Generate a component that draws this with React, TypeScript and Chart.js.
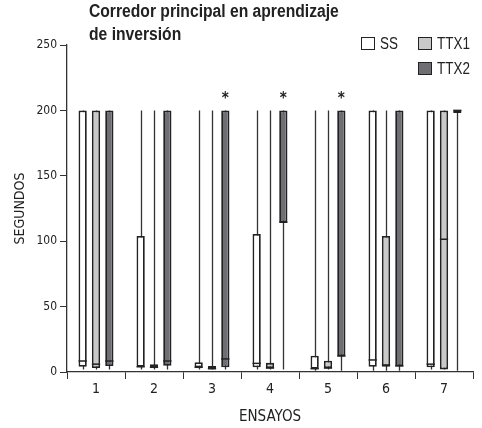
import React, { useEffect, useRef } from "react";
import { Chart, registerables } from "chart.js";

Chart.register(...registerables);

// Trials (x categories)
const categories = ["1", "2", "3", "4", "5", "6", "7"];

// SS group: box-plot statistics per trial (seconds)
const ssMin = [2, 2, 2, 2, 1, 1, 2];
const ssQ1 = [4, 4, 3.6, 3.6, 2.5, 4, 3.6];
const ssMedian = [8.4, 4, 3.6, 6.6, 2.5, 9.2, 6];
const ssQ3 = [200, 104, 7.4, 105.5, 12.5, 200, 200];
const ssMax = [200, 200, 200, 200, 200, 200, 200];

// TTX1 group
const ttx1Min = [2, 2, 2, 2, 2, 1, 2];
const ttx1Q1 = [3, 3.6, 2.5, 3, 3, 4, 2];
const ttx1Median = [6, 3.6, 2.5, 3, 3, 5.4, 101.5];
const ttx1Q3 = [200, 6, 4.6, 7, 8.6, 104, 200];
const ttx1Max = [200, 200, 200, 200, 200, 200, 200];

// TTX2 group
const ttx2Min = [2, 2, 2, 2, 1, 1, 1];
const ttx2Q1 = [4.6, 4.8, 3.6, 114.5, 12.2, 4.6, 198];
const ttx2Median = [8.4, 8.4, 10, 114.5, 12.2, 4.6, 200];
const ttx2Q3 = [200, 200, 200, 200, 200, 200, 200];
const ttx2Max = [200, 200, 200, 200, 200, 200, 200];

// Trials where TTX2 differs significantly (marked with *)
const ttx2Significant = [false, false, true, true, true, false, false];

const yTicks = [0, 50, 100, 150, 200, 250];

const CANVAS_FONT = "'DejaVu Sans Condensed', 'Liberation Sans', sans-serif";
const HTML_FONT = "'Liberation Sans', Arial, sans-serif";
const INK = "#222222";

const groups = [
  { label: "SS", fill: "#ffffff", min: ssMin, q1: ssQ1, med: ssMedian, q3: ssQ3, max: ssMax, sig: null as boolean[] | null },
  { label: "TTX1", fill: "#c9c9c9", min: ttx1Min, q1: ttx1Q1, med: ttx1Median, q3: ttx1Q3, max: ttx1Max, sig: null as boolean[] | null },
  { label: "TTX2", fill: "#6f6f73", min: ttx2Min, q1: ttx2Q1, med: ttx2Median, q3: ttx2Q3, max: ttx2Max, sig: ttx2Significant },
];

// Whiskers behind the boxes, medians and significance stars on top
const boxPlotPlugin = {
  id: "boxPlotExtras",
  beforeDatasetsDraw(chart: any) {
    const { ctx } = chart;
    const y = chart.scales.y;
    ctx.save();
    ctx.strokeStyle = "#333";
    ctx.lineWidth = 1.3;
    groups.forEach((g, di) => {
      const meta = chart.getDatasetMeta(di);
      meta.data.forEach((bar: any, i: number) => {
        const x = Math.round(bar.x) + 0.5;
        ctx.beginPath();
        ctx.moveTo(x, y.getPixelForValue(g.min[i]));
        ctx.lineTo(x, y.getPixelForValue(g.max[i]));
        ctx.stroke();
      });
    });
    ctx.restore();
  },
  afterDatasetsDraw(chart: any) {
    const { ctx } = chart;
    const y = chart.scales.y;
    ctx.save();
    groups.forEach((g, di) => {
      const meta = chart.getDatasetMeta(di);
      meta.data.forEach((bar: any, i: number) => {
        const half = bar.width / 2;
        const py = y.getPixelForValue(g.med[i]);
        ctx.strokeStyle = INK;
        ctx.lineWidth = 1.5;
        ctx.beginPath();
        ctx.moveTo(bar.x - half, py);
        ctx.lineTo(bar.x + half, py);
        ctx.stroke();
        if (g.sig && g.sig[i]) {
          ctx.fillStyle = "#222";
          ctx.font = `bold 15px ${CANVAS_FONT}`;
          ctx.textAlign = "center";
          ctx.textBaseline = "alphabetic";
          ctx.fillText("*", bar.x, y.getPixelForValue(g.max[i]) - 7);
        }
      });
    });
    ctx.restore();
  },
};

export default function App() {
  const canvasRef = useRef<HTMLCanvasElement | null>(null);

  useEffect(() => {
    if (!canvasRef.current) return;
    const chart = new Chart(canvasRef.current, {
      type: "bar",
      data: {
        labels: categories,
        datasets: groups.map((g) => ({
          label: g.label,
          data: g.q1.map((v, i) => [v, g.q3[i]]) as any,
          backgroundColor: g.fill,
          borderColor: INK,
          borderWidth: 1.8,
          borderSkipped: false,
          categoryPercentage: 0.69,
          barPercentage: 0.62,
        })),
      },
      options: {
        animation: false,
        responsive: true,
        maintainAspectRatio: false,
        layout: { padding: { top: 45, right: 9, left: 0, bottom: 0 } },
        plugins: {
          legend: { display: false },
          title: { display: false },
          tooltip: { enabled: false },
        },
        scales: {
          x: {
            type: "category",
            offset: true,
            grid: {
              offset: true,
              drawOnChartArea: false,
              drawTicks: true,
              tickLength: 7,
              color: "#333",
            },
            border: { display: true, color: "#333", width: 1.3 },
            ticks: { color: "#222", font: { family: CANVAS_FONT, size: 14 }, padding: 2 },
            title: {
              display: true,
              text: "ENSAYOS",
              color: "#222",
              font: { family: CANVAS_FONT, size: 15 },
              padding: { top: 4, bottom: 2 },
            },
            afterFit: (s: any) => {
              s.height = 56;
            },
          },
          y: {
            min: 0,
            max: 250,
            afterBuildTicks: (s: any) => {
              s.ticks = yTicks.map((v) => ({ value: v }));
            },
            grid: {
              drawOnChartArea: false,
              drawTicks: true,
              tickLength: 7,
              color: "#333",
            },
            border: { display: true, color: "#333", width: 1.3 },
            ticks: { color: "#222", font: { family: CANVAS_FONT, size: 12 }, padding: 3 },
            title: {
              display: true,
              text: "SEGUNDOS",
              color: "#222",
              font: { family: CANVAS_FONT, size: 14 },
              padding: { top: 12, bottom: 4 },
            },
            afterFit: (s: any) => {
              s.width = 67;
            },
          },
        },
      },
      plugins: [boxPlotPlugin],
    });
    return () => chart.destroy();
  }, []);

  const legendBox = (fill: string) => ({
    position: "absolute" as const,
    width: 12,
    height: 11,
    background: fill,
    border: `1.5px solid ${INK}`,
  });
  const legendText = {
    position: "absolute" as const,
    fontFamily: HTML_FONT,
    fontSize: 16,
    color: "#222",
    lineHeight: "16px",
    transform: "scaleX(0.84)",
    transformOrigin: "left top",
    whiteSpace: "nowrap" as const,
  };

  return (
    <div style={{ position: "fixed", left: 0, top: 0, width: 482, height: 428, background: "#fff" }}>
      <canvas ref={canvasRef} />
      <div
        style={{
          position: "absolute",
          left: 89,
          top: 0,
          fontFamily: HTML_FONT,
          fontWeight: "bold",
          fontSize: 18,
          lineHeight: "23px",
          color: "#222",
          whiteSpace: "nowrap",
          transform: "scaleX(0.87)",
          transformOrigin: "left top",
        }}
      >
        Corredor principal en aprendizaje
        <br />
        de inversión
      </div>
      <div style={{ ...legendBox(groups[0].fill), left: 361, top: 37 }} />
      <div style={{ ...legendText, left: 380, top: 36 }}>SS</div>
      <div style={{ ...legendBox(groups[1].fill), left: 418, top: 37 }} />
      <div style={{ ...legendText, left: 437, top: 36 }}>TTX1</div>
      <div style={{ ...legendBox(groups[2].fill), left: 418, top: 62 }} />
      <div style={{ ...legendText, left: 437, top: 61 }}>TTX2</div>
    </div>
  );
}
